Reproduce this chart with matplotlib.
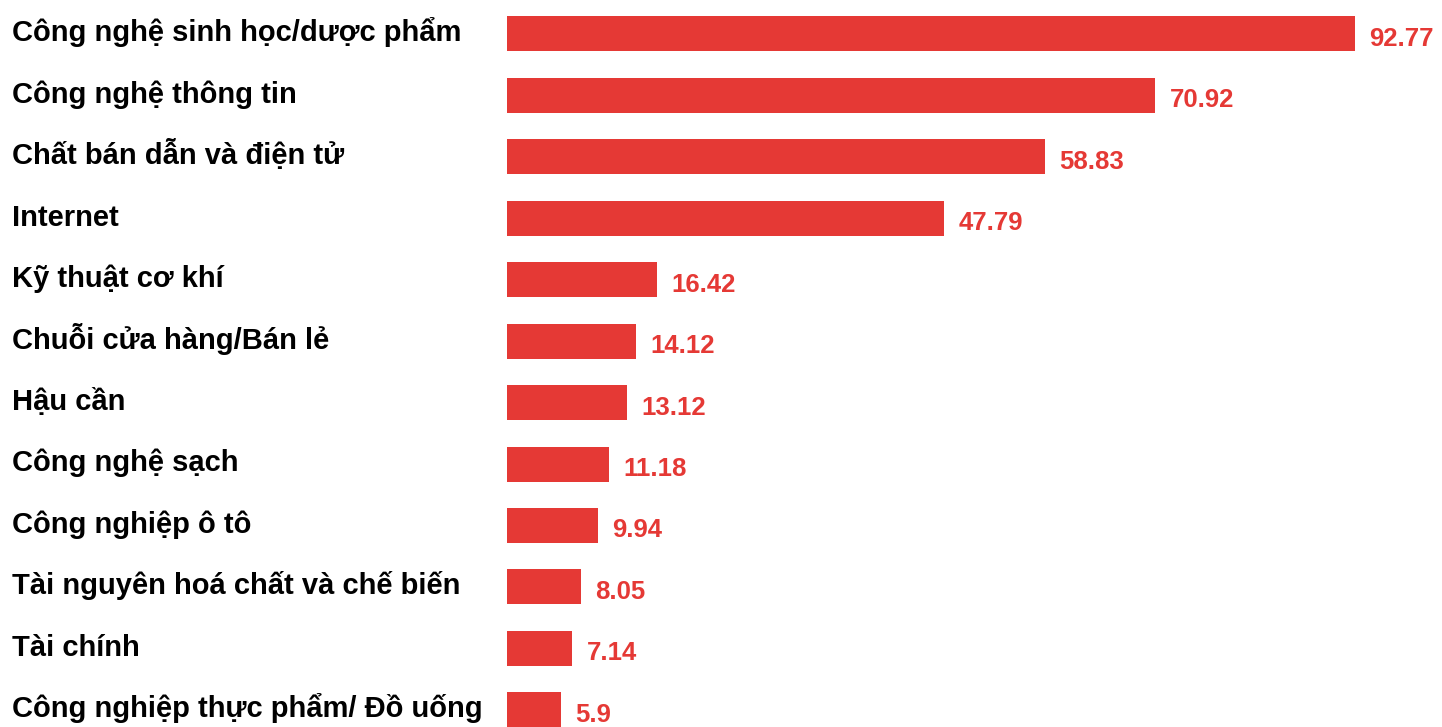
import matplotlib.pyplot as plt
import matplotlib.transforms as mtransforms

plt.rcParams['font.family'] = ['Liberation Sans', 'DejaVu Sans']

categories = [
    'Công nghệ sinh học/dược phẩm',
    'Công nghệ thông tin',
    'Chất bán dẫn và điện tử',
    'Internet',
    'Kỹ thuật cơ khí',
    'Chuỗi cửa hàng/Bán lẻ',
    'Hậu cần',
    'Công nghệ sạch',
    'Công nghiệp ô tô',
    'Tài nguyên hoá chất và chế biến',
    'Tài chính',
    'Công nghiệp thực phẩm/ Đồ uống',
]
values = [92.77, 70.92, 58.83, 47.79, 16.42, 14.12, 13.12, 11.18, 9.94, 8.05, 7.14, 5.9]
value_labels = ['92.77', '70.92', '58.83', '47.79', '16.42', '14.12', '13.12', '11.18', '9.94', '8.05', '7.14', '5.9']

bar_color = '#e53935'

fig = plt.figure(figsize=(14.42, 7.27), dpi=100)
ax = fig.add_axes([507 / 1442, 0, 1 - 507 / 1442, 1])

ypos = list(range(len(categories)))
ax.barh(ypos, values, height=0.57, color=bar_color)

ax.set_xlim(0, 935 / 9.14)
ax.set_ylim(11.28, -0.553)
ax.axis('off')

# category labels at left edge of figure
trans = mtransforms.blended_transform_factory(fig.transFigure, ax.transData)
for y, name in zip(ypos, categories):
    ax.text(12 / 1442, y + 0.12, name, transform=trans, ha='left', va='baseline',
            fontsize=21, fontweight='bold', color='black')

for y, v, lab in zip(ypos, values, value_labels):
    ax.text(v + 1.6, y + 0.08, lab, ha='left', va='center',
            fontsize=18.5, fontweight='bold', color=bar_color)

fig.savefig('out.png', dpi=100, facecolor='white')
